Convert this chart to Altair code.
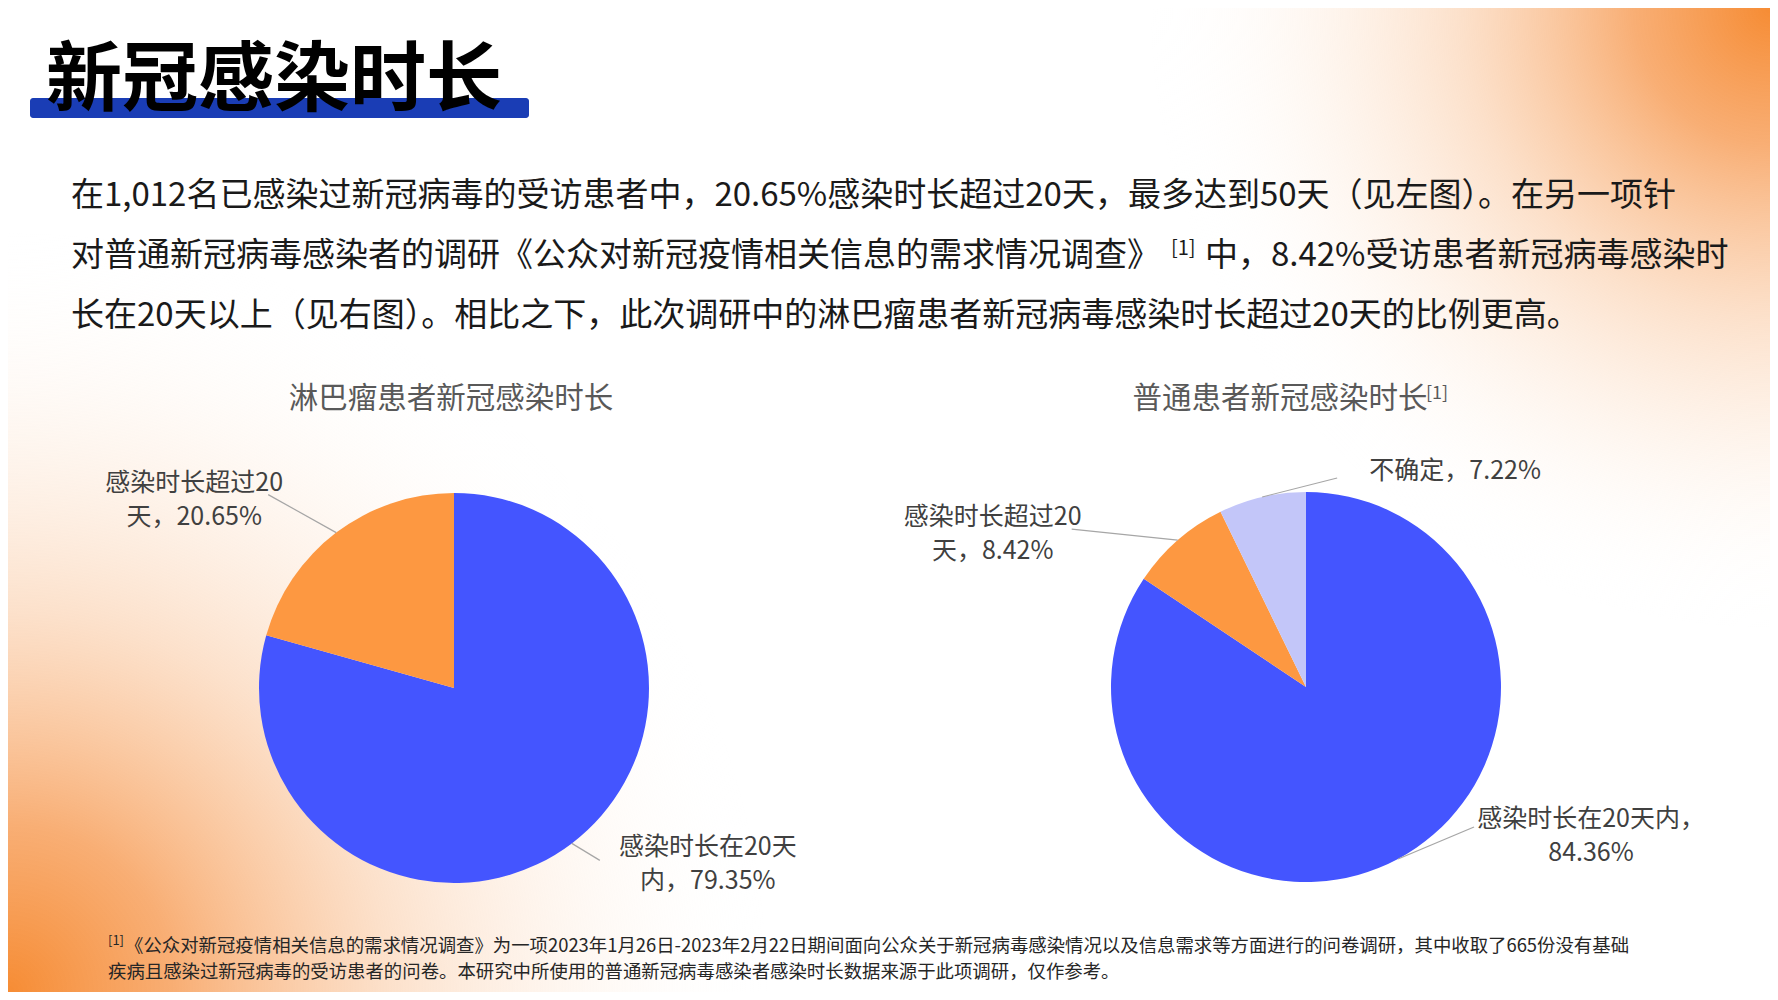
import altair as alt
import pandas as pd

# ------------------------------------------------------------------ data
left_cats = ["感染时长在20天内", "感染时长超过20天"]
left_vals = [79.35, 20.65]
left_wrap = [8, 8]  # characters on the first label line

right_cats = ["感染时长在20天内", "感染时长超过20天", "不确定"]
right_vals = [84.36, 8.42, 7.22]
right_wrap = [10, 8, 99]

title_text = "新冠感染时长"
para_line1 = "在1,012名已感染过新冠病毒的受访患者中，20.65%感染时长超过20天，最多达到50天（见左图）。在另一项针"
para_line2a = "对普通新冠病毒感染者的调研《公众对新冠疫情相关信息的需求情况调查》"
para_line2b = "中，8.42%受访患者新冠病毒感染时"
para_line3 = "长在20天以上（见右图）。相比之下，此次调研中的淋巴瘤患者新冠病毒感染时长超过20天的比例更高。"
left_title = "淋巴瘤患者新冠感染时长"
right_title = "普通患者新冠感染时长"
sup_mark = "[1]"
foot1 = "《公众对新冠疫情相关信息的需求情况调查》为一项2023年1月26日-2023年2月22日期间面向公众关于新冠病毒感染情况以及信息需求等方面进行的问卷调研，其中收取了665份没有基础"
foot2 = "疾病且感染过新冠病毒的受访患者的问卷。本研究中所使用的普通新冠病毒感染者感染时长数据来源于此项调研，仅作参考。"

# ------------------------------------------------------------------ style / layout
FONT = "Noto Sans CJK SC"
palette_domain = ["感染时长在20天内", "感染时长超过20天", "不确定"]
palette_range = ["#4455FF", "#FD9841", "#C3C6F9"]
color_scale = alt.Scale(domain=palette_domain, range=palette_range)

W, H = 1762, 984
R = 195
LEFT_C = (446, 680)
RIGHT_C = (1298, 679)
LABEL_LH = 34

# offsets relative to the slice's outer mid point (first label line centre, leader end)
left_label_off = [(136, 4), (-142, -50)]
left_leader_off = [(28, 17), (-68, -38)]
right_label_off = [(193, -40), (-185, -23), (193, -26)]
right_leader_off = [(76, -32), (-106, -11), (75, -19)]


def make_label(cat, val, wrap):
    s = f"{cat}，{val:.2f}%"
    if wrap < len(s):
        s = s[:wrap] + "\n" + s[wrap:]
    return s


def pie(cats, vals, wraps, center, label_off, leader_off):
    cx, cy = center
    df = pd.DataFrame({
        "i": list(range(len(cats))),
        "cat": cats,
        "val": vals,
        "label": [make_label(c, v, w) for c, v, w in zip(cats, vals, wraps)],
        "tdx": [o[0] for o in label_off],
        "tdy": [o[1] for o in label_off],
        "edx": [o[0] for o in leader_off],
        "edy": [o[1] for o in leader_off],
    })
    base = alt.Chart(df)
    arc = base.mark_arc(radius=R).encode(
        theta=alt.Theta("val:Q", stack=True),
        color=alt.Color("cat:N", scale=color_scale, legend=None),
        order=alt.Order("i:Q"),
        x=alt.value(cx),
        y=alt.value(cy),
    )
    geo = (
        base.transform_joinaggregate(total="sum(val)")
        .transform_window(cum="sum(val)", sort=[alt.SortField("i")], frame=[None, 0])
        .transform_calculate(mid="2*PI*(datum.cum - datum.val/2)/datum.total")
        .transform_calculate(
            sx=f"{cx} + {R}*sin(datum.mid)",
            sy=f"{cy} - {R}*cos(datum.mid)",
        )
        .transform_calculate(
            ex="datum.sx + datum.edx",
            ey="datum.sy + datum.edy",
            tx="datum.sx + datum.tdx",
            ty="datum.sy + datum.tdy",
        )
    )
    leader = geo.mark_rule(color="#A6A6A6", strokeWidth=1.2).encode(
        x=alt.X("sx:Q", scale=None, axis=None),
        y=alt.Y("sy:Q", scale=None, axis=None),
        x2="ex:Q",
        y2="ey:Q",
    )
    labels = geo.mark_text(
        font=FONT, fontSize=25, color="#404040", lineBreak="\n",
        lineHeight=LABEL_LH, align="center", baseline="middle",
    ).encode(
        x=alt.X("tx:Q", scale=None, axis=None),
        y=alt.Y("ty:Q", scale=None, axis=None),
        text="label:N",
    )
    return [arc, leader, labels]


def txt(s, x, y, size, color="#1A1A1A", align="left", weight="normal", baseline="middle"):
    return alt.Chart(pd.DataFrame({"t": [s]})).mark_text(
        font=FONT, fontSize=size, color=color, align=align,
        baseline=baseline, fontWeight=weight,
    ).encode(x=alt.value(x), y=alt.value(y), text="t:N")


# radial gradients live in a square of side max(W, H) centred on the rect
SQ = max(W, H)
OY = (SQ - H) / 2


def glow(px, py, radius):
    gx, gy = px / SQ, (py + OY) / SQ
    grad = alt.RadialGradient(
        gradient="radial",
        x1=gx, y1=gy, r1=0, x2=gx, y2=gy, r2=radius / SQ,
        stops=[
            alt.GradientStop(color="rgba(246,140,52,1)", offset=0),
            alt.GradientStop(color="rgba(247,160,92,0.85)", offset=0.22),
            alt.GradientStop(color="rgba(250,200,160,0.55)", offset=0.5),
            alt.GradientStop(color="rgba(253,232,214,0.25)", offset=0.78),
            alt.GradientStop(color="rgba(255,255,255,0)", offset=1),
        ],
    )
    return alt.Chart(pd.DataFrame({"a": [0]})).mark_rect(fill=grad).encode(
        x=alt.value(0), x2=alt.value(W), y=alt.value(0), y2=alt.value(H)
    )


bg_left = glow(0, H, 760)
bg_right = glow(W, 0, 620)

bar = alt.Chart(pd.DataFrame({"a": [0]})).mark_rect(color="#1A3DB5", cornerRadius=3).encode(
    x=alt.value(22), x2=alt.value(521), y=alt.value(90), y2=alt.value(110)
)

layers = [bg_left, bg_right, bar,
          txt(title_text, 38, 74, 76, color="#000000", weight="bold"),
          txt(para_line1, 63, 188, 33),
          txt(para_line2a, 63, 248, 33),
          txt(sup_mark, 1163, 241, 20),
          txt(para_line2b, 1197, 248, 33),
          txt(para_line3, 63, 308, 33),
          txt(left_title, 443, 391, 29.5, color="#595959", align="center"),
          txt(right_title, 1272, 391, 29.5, color="#595959", align="center"),
          txt(sup_mark, 1418, 386, 18, color="#595959"),
          txt(sup_mark, 100, 933, 13, color="#262626"),
          txt(foot1, 117, 938, 18.4, color="#262626"),
          txt(foot2, 100, 964, 18.4, color="#262626"),
          ]
layers += pie(left_cats, left_vals, left_wrap, LEFT_C, left_label_off, left_leader_off)
layers += pie(right_cats, right_vals, right_wrap, RIGHT_C, right_label_off, right_leader_off)

chart = alt.layer(*layers).resolve_scale(theta="independent").properties(
    width=W, height=H, padding=0, autosize=alt.AutoSizeParams(type="none"),
    background="#FFFFFF",
).configure_view(stroke=None)

chart.save("out.html", embed_options={"renderer": "svg", "actions": False})
